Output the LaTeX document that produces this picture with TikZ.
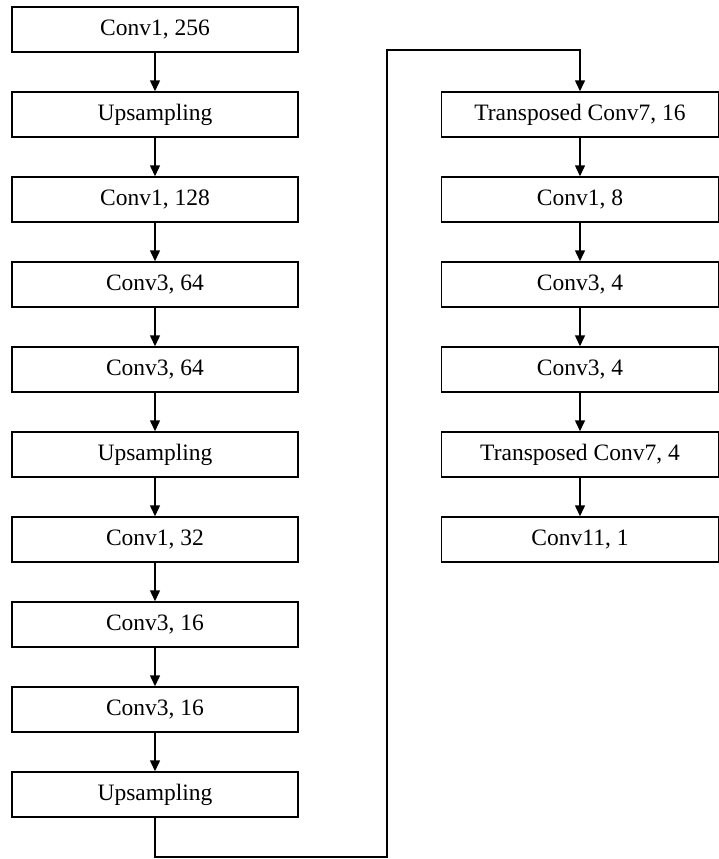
\documentclass[tikz,border=0pt]{standalone}
\usepackage{fontspec}
\setmainfont{Liberation Serif}
\usetikzlibrary{arrows.meta,positioning}

\begin{document}
\begin{tikzpicture}[x=1pt,y=-1pt,line width=1.5pt,>={Triangle[length=11pt,width=10pt]},
                    node distance=38.5pt]
  \tikzstyle{layer}=[draw,rectangle,minimum width=286pt,minimum height=45pt,
                     inner sep=0pt,font=\fontsize{23.5}{28}\selectfont]
  \tikzstyle{layerr}=[layer,minimum width=277pt]
  \useasboundingbox (0,0) rectangle (719,859);

  % left column
  \node[layer] (L1) at (155,29.5) {Conv1, 256};
  \node[layer] (L2) [below=of L1] {Upsampling};
  \node[layer] (L3) [below=of L2] {Conv1, 128};
  \node[layer] (L4) [below=of L3] {Conv3, 64};
  \node[layer] (L5) [below=of L4] {Conv3, 64};
  \node[layer] (L6) [below=of L5] {Upsampling};
  \node[layer] (L7) [below=of L6] {Conv1, 32};
  \node[layer] (L8) [below=of L7] {Conv3, 16};
  \node[layer] (L9) [below=of L8] {Conv3, 16};
  \node[layer] (L10) [below=of L9] {Upsampling};

  % right column
  \node[layerr] (R1) at (580,114.5) {Transposed Conv7, 16};
  \node[layerr] (R2) [below=of R1] {Conv1, 8};
  \node[layerr] (R3) [below=of R2] {Conv3, 4};
  \node[layerr] (R4) [below=of R3] {Conv3, 4};
  \node[layerr] (R5) [below=of R4] {Transposed Conv7, 4};
  \node[layerr] (R6) [below=of R5] {Conv11, 1};

  \path[->]
        (L1) edge (L2)  (L2) edge (L3)  (L3) edge (L4)
        (L4) edge (L5)  (L5) edge (L6)  (L6) edge (L7)
        (L7) edge (L8)  (L8) edge (L9)  (L9) edge (L10)
        (R1) edge (R2)  (R2) edge (R3)  (R3) edge (R4)
        (R4) edge (R5)  (R5) edge (R6);

  % link between the columns
  \coordinate (turn1) at (387,857);
  \coordinate (turn2) at (387,50);
  \draw[->] (L10.south) |- (turn1) -- (turn2) -| (R1.north);
\end{tikzpicture}
\end{document}
